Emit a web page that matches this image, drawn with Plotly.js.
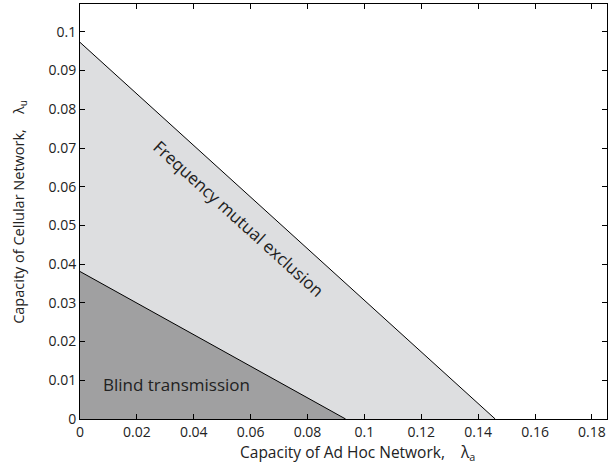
<!DOCTYPE html>
<html>
<head>
<meta charset="utf-8">
<script src="https://cdn.plot.ly/plotly-3.0.1.min.js"></script>
<style>html,body{margin:0;padding:0;background:#fff;}#chart{width:616px;height:469px;}</style>
</head>
<body>
<div id="chart"></div>
<script>
// Boundary of the frequency mutual exclusion region (lambda_a, lambda_u)
const mutualX = [0, 0.146];
const mutualY = [0.0973, 0];
// Boundary of the blind transmission region
const blindX = [0, 0.0934];
const blindY = [0.0381, 0];
// Region labels
const regionLabels = ["Frequency mutual exclusion", "Blind transmission"];
const labelX = [0.0559, 0.0338];
const labelY = [0.0519, 0.0088];
// Axis titles
const xTitle = "Capacity of Ad Hoc Network,\u00a0\u00a0\u00a0\u00a0λ<sub>a</sub>";
const yTitle = "Capacity of Cellular Network,\u00a0\u00a0\u00a0\u00a0λ<sub>u</sub>";
// Ticks
const xTicks = [0, 0.02, 0.04, 0.06, 0.08, 0.1, 0.12, 0.14, 0.16, 0.18];
const yTicks = [0, 0.01, 0.02, 0.03, 0.04, 0.05, 0.06, 0.07, 0.08, 0.09, 0.1];
const xTickText = ["0", "0.02", "0.04", "0.06", "0.08", "0.1", "0.12", "0.14", "0.16", "0.18"];
const yTickText = ["0", "0.01", "0.02", "0.03", "0.04", "0.05", "0.06", "0.07", "0.08", "0.09", "0.1"];

const font = "Open Sans, Noto Sans, sans-serif";

const traces = [
  {x: mutualX, y: mutualY, type: "scatter", mode: "lines", fill: "tozeroy",
   fillcolor: "#dddee0", line: {color: "#000", width: 1}, hoverinfo: "skip"},
  {x: blindX, y: blindY, type: "scatter", mode: "lines", fill: "tozeroy",
   fillcolor: "#a0a0a1", line: {color: "#000", width: 1}, hoverinfo: "skip"}
];

const axisCommon = {
  showgrid: false, zeroline: false, showline: true, linecolor: "#000", linewidth: 1,
  mirror: "ticks", ticks: "inside", ticklen: 5, tickcolor: "#000", tickwidth: 1,
  tickfont: {family: font, size: 14, color: "#222"}
};

const layout = {
  width: 616, height: 469,
  margin: {l: 80, r: 9, t: 4, b: 50},
  paper_bgcolor: "#fff", plot_bgcolor: "#fff",
  showlegend: false,
  xaxis: Object.assign({}, axisCommon, {range: [0, 0.1853], tickvals: xTicks, ticktext: xTickText}),
  yaxis: Object.assign({}, axisCommon, {range: [0, 0.1072], tickvals: yTicks, ticktext: yTickText}),
  annotations: [
    {x: labelX[0], y: labelY[0], xref: "x", yref: "y", text: regionLabels[0], showarrow: false,
     textangle: 42.2, font: {family: font, size: 17, color: "#222"}},
    {x: labelX[1], y: labelY[1], xref: "x", yref: "y", text: regionLabels[1], showarrow: false,
     font: {family: font, size: 17, color: "#222"}},
    {x: 0.5275, y: -0.08, xref: "paper", yref: "paper", text: xTitle, showarrow: false,
     xanchor: "center", yanchor: "middle", font: {family: font, size: 15.5, color: "#222"}},
    {x: -0.114, y: 0.499, xref: "paper", yref: "paper", text: yTitle, showarrow: false, textangle: -90,
     xanchor: "center", yanchor: "middle", font: {family: font, size: 14.5, color: "#222"}}
  ]
};

Plotly.newPlot("chart", traces, layout, {displayModeBar: false, staticPlot: true});
</script>
</body>
</html>
